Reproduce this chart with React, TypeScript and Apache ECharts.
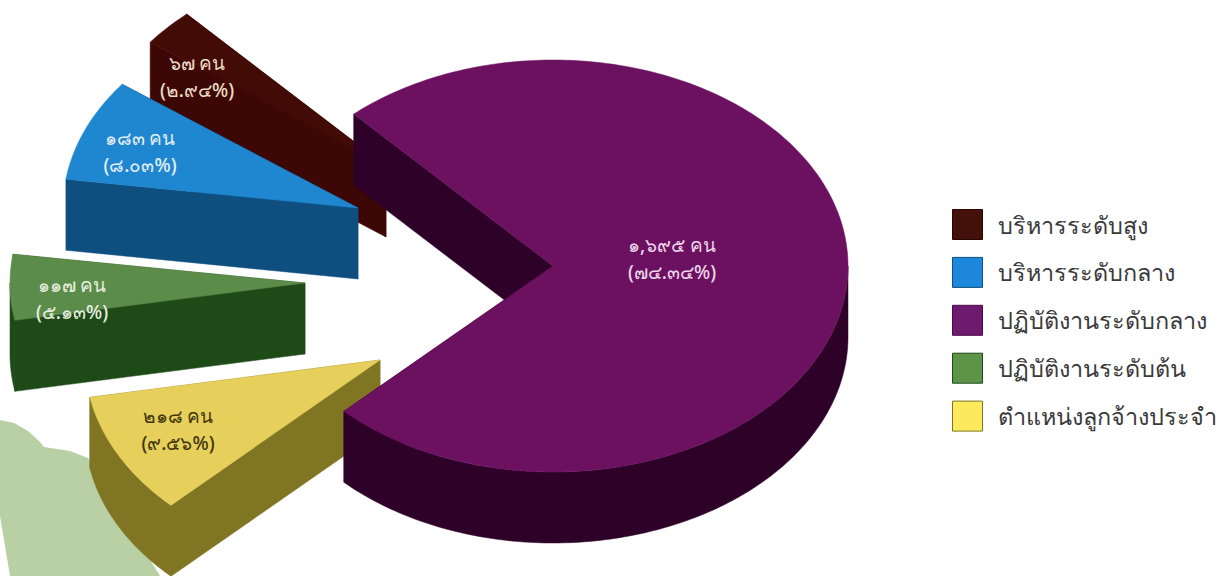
import React, { useEffect, useRef } from "react";
import * as echarts from "echarts";

// ---- data (legend order) ----
const categories = [
  "บริหารระดับสูง",
  "บริหารระดับกลาง",
  "ปฏิบัติงานระดับกลาง",
  "ปฏิบัติงานระดับต้น",
  "ตำแหน่งลูกจ้างประจำ",
];
const people = [67, 183, 1695, 117, 218];
const countLabels = ["๖๗ คน", "๑๘๓ คน", "๑,๖๙๕ คน", "๑๑๗ คน", "๒๑๘ คน"];
const shareLabels = ["(๒.๙๔%)", "(๘.๐๓%)", "(๗๔.๓๔%)", "(๕.๑๓%)", "(๙.๕๖%)"];

// ---- styles and layout (all in legend order) ----
const topColors = ["#430b06", "#1f86d0", "#6c1160", "#5c8c4a", "#e6cf5a"];
const sideColors = ["#3c0705", "#0f4f80", "#2e0228", "#1e4a18", "#7f7522"];
const legendColors = ["#43100a", "#1d88db", "#6e1a6e", "#5d9448", "#fde95c"];
const legendBorders = ["#2a0603", "#0d4f80", "#4a0a4a", "#1d4a18", "#7d7420"];
const labelColors = ["#ecdcc4", "#e2eff9", "#eed6ea", "#e8efe0", "#40350c"];
const RX = 295;
const RY = 206;
const DEPTH = 71;
const START_DEG = 132.5;
// counter-clockwise order of slices round the pie
const pieOrder = [0, 1, 3, 4, 2];
// where each exploded slice's tip sits, and its label centre relative to that tip
const tips = [[386, 166], [358, 208], [553, 266], [305, 283], [380, 360]];
const labelOffsets = [[-189, -103], [-218, -70], [119, -21], [-233, 2], [-202, 56]];
const paintZ = [1, 2, 6, 3, 4];
const blob = [
  [0, 420], [14, 423], [28, 431], [40, 442], [44, 447], [70, 451], [88, 458],
  [160, 576], [10, 576], [5, 546], [0, 516],
];

const total = people.reduce((a, b) => a + b, 0);

function App() {
  const ref = useRef<HTMLDivElement>(null);
  useEffect(() => {
    const chart = echarts.init(ref.current!, null, { renderer: "svg" });

    const startOf = (idx: number) => {
      let acc = START_DEG;
      for (const k of pieOrder) {
        if (k === idx) break;
        acc += (people[k] / total) * 360;
      }
      return acc;
    };

    const renderItem = (idx: number) => (_: any, api: any) => {
      const sweep = (api.value(0) / total) * 360;
      const a0 = startOf(idx);
      const a1 = a0 + sweep;
      const [cx, cy] = tips[idx];
      const pt = (deg: number, dy = 0): number[] => {
        const t = (deg * Math.PI) / 180;
        return [cx + RX * Math.cos(t), cy - RY * Math.sin(t) + dy];
      };
      const arc: number[][] = [];
      const n = Math.max(8, Math.ceil(sweep));
      for (let i = 0; i <= n; i++) arc.push(pt(a0 + (sweep * i) / n));

      // outer wall: only the part of the rim that faces the viewer
      const wallFrom = Math.max(a0, 180);
      const wallTo = Math.min(a1, 360);
      const wall: number[][] = [];
      if (wallTo > wallFrom) {
        const m = Math.ceil(wallTo - wallFrom) + 1;
        for (let i = 0; i <= m; i++) wall.push(pt(wallFrom + ((wallTo - wallFrom) * i) / m));
        for (let i = m; i >= 0; i--) wall.push(pt(wallFrom + ((wallTo - wallFrom) * i) / m, DEPTH));
      }
      const side = { fill: sideColors[idx], stroke: sideColors[idx], lineWidth: 0.5 };
      const cut = (deg: number) => ({
        type: "polygon",
        shape: { points: [[cx, cy], pt(deg), pt(deg, DEPTH), [cx, cy + DEPTH]] },
        style: side,
      });
      const children: any[] = [cut(a0), cut(a1)];
      if (wall.length) children.push({ type: "polygon", shape: { points: wall }, style: side });
      children.push({
        type: "polygon",
        shape: { points: [[cx, cy], ...arc] },
        style: { fill: topColors[idx], stroke: topColors[idx], lineWidth: 0.5 },
      });
      const [lx, ly] = labelOffsets[idx];
      [countLabels[idx], shareLabels[idx]].forEach((t, i) => {
        children.push({
          type: "text",
          x: cx + lx,
          y: cy + ly + i * 27,
          style: {
            text: t,
            fill: labelColors[idx],
            font: '500 19px "Noto Sans", "DejaVu Sans", sans-serif',
            align: "center",
            verticalAlign: "middle",
          },
        });
      });
      return { type: "group", children };
    };

    chart.setOption({
      animation: false,
      backgroundColor: "#ffffff",
      legend: {
        orient: "vertical",
        left: 952,
        top: 209,
        padding: 0,
        itemWidth: 30,
        itemHeight: 30,
        itemGap: 16.9,
        icon: "rect",
        selectedMode: false,
        textStyle: {
          fontFamily: '"Noto Sans", "DejaVu Sans", sans-serif',
          fontSize: 23.4,
          color: "#3a3a3a",
          padding: [0, 0, 0, 10],
        },
        data: categories.map((name, i) => ({
          name,
          itemStyle: { color: legendColors[i], borderColor: legendBorders[i], borderWidth: 1 },
        })),
      },
      graphic: [
        {
          type: "polygon",
          z: -10,
          shape: { points: blob },
          style: { fill: "#b9cfa4" },
        },
      ],
      series: categories.map((name, i) => ({
        type: "custom",
        name,
        coordinateSystem: "none",
        z: paintZ[i],
        itemStyle: { color: legendColors[i] },
        data: [[people[i]]],
        renderItem: renderItem(i),
      })),
    });
    return () => chart.dispose();
  }, []);
  return (
    <div
      ref={ref}
      style={{ position: "absolute", left: 0, top: 0, width: 1230, height: 576 }}
    />
  );
}

export default App;
